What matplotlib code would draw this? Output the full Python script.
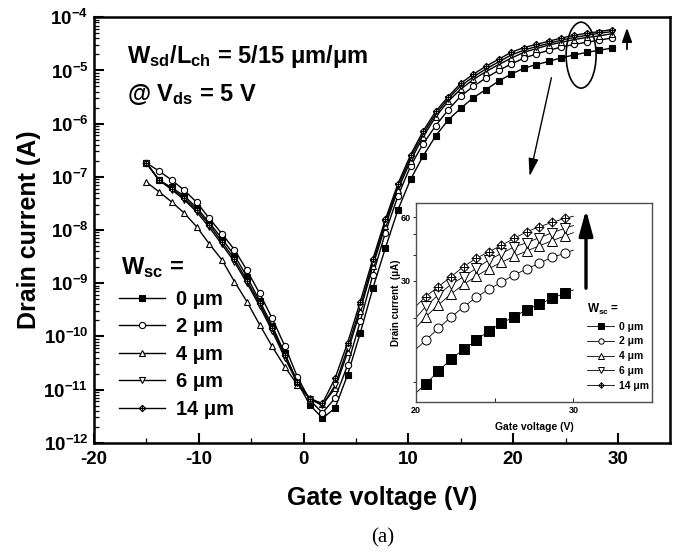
import numpy as np
import matplotlib
matplotlib.use("Agg")
import matplotlib.pyplot as plt
from matplotlib.path import Path
from matplotlib.patches import Ellipse
from matplotlib.ticker import FixedLocator, NullFormatter, LogLocator

plt.rcParams['font.family'] = ['Liberation Sans', 'DejaVu Sans']
plt.rcParams['mathtext.fontset'] = 'custom'
plt.rcParams['mathtext.rm'] = 'Liberation Sans'
plt.rcParams['mathtext.bf'] = 'Liberation Sans:bold'
plt.rcParams['mathtext.it'] = 'Liberation Sans:italic'
plt.rcParams['axes.unicode_minus'] = False

# gate voltage (V), main plot
vg = [-15.0, -13.8, -12.6, -11.4, -10.2, -9.0, -7.8, -6.6, -5.4, -4.2,
      -3.0, -1.8, -0.6, 0.6, 1.8, 3.0, 4.2, 5.4, 6.6, 7.8,
      9.0, 10.2, 11.4, 12.6, 13.8, 15.0, 16.2, 17.4, 18.6, 19.8,
      21.0, 22.2, 23.4, 24.6, 25.8, 27.0, 28.2, 29.4]

# log10 of drain current (A)
log_id_0 = [-6.74, -7.06, -7.20, -7.36, -7.58, -7.86, -8.16, -8.48, -8.88, -9.33,
            -9.80, -10.32, -10.86, -11.29, -11.54, -11.35, -10.72, -9.94, -9.10, -8.34,
            -7.62, -7.05, -6.61, -6.23, -5.93, -5.71, -5.51, -5.36, -5.20, -5.07,
            -4.96, -4.89, -4.83, -4.76, -4.71, -4.66, -4.62, -4.58]
log_id_2 = [-6.74, -6.89, -7.06, -7.25, -7.48, -7.78, -8.07, -8.37, -8.76, -9.19,
            -9.66, -10.18, -10.76, -11.20, -11.44, -11.16, -10.54, -9.72, -8.85, -8.05,
            -7.36, -6.80, -6.38, -6.04, -5.74, -5.48, -5.30, -5.14, -5.00, -4.88,
            -4.77, -4.69, -4.62, -4.56, -4.51, -4.47, -4.43, -4.39]
log_id_4 = [-7.10, -7.28, -7.47, -7.68, -7.94, -8.26, -8.56, -8.97, -9.35, -9.78,
            -10.19, -10.57, -10.91, -11.16, -11.28, -10.98, -10.30, -9.52, -8.68, -7.92,
            -7.24, -6.70, -6.25, -5.87, -5.58, -5.35, -5.17, -5.02, -4.89, -4.77,
            -4.66, -4.59, -4.52, -4.47, -4.42, -4.38, -4.35, -4.31]
log_id_6 = [-6.74, -7.06, -7.24, -7.43, -7.66, -7.95, -8.27, -8.60, -9.00, -9.43,
            -9.90, -10.40, -10.88, -11.18, -11.30, -10.92, -10.22, -9.45, -8.62, -7.86,
            -7.18, -6.64, -6.19, -5.82, -5.53, -5.29, -5.12, -4.97, -4.84, -4.71,
            -4.62, -4.55, -4.49, -4.43, -4.38, -4.34, -4.30, -4.27]
log_id_14 = [-6.74, -7.06, -7.22, -7.40, -7.62, -7.90, -8.22, -8.55, -8.95, -9.38,
             -9.85, -10.35, -10.85, -11.18, -11.26, -10.79, -10.12, -9.35, -8.55, -7.80,
             -7.13, -6.59, -6.14, -5.77, -5.49, -5.24, -5.07, -4.92, -4.79, -4.66,
             -4.57, -4.51, -4.45, -4.39, -4.34, -4.30, -4.27, -4.23]

# inset: gate voltage (V) and drain current (uA)
vg_in = [20.0, 20.64, 21.44, 22.24, 23.04, 23.84, 24.64, 25.44, 26.24, 27.04,
         27.84, 28.64, 29.44, 30.0]
id_in_0 = [8.8, 9.75, 11.2, 12.8, 14.2, 15.7, 17.4, 18.9, 20.3, 21.9, 23.3, 24.8, 26.2, 27.2]
id_in_2 = [14.2, 15.7, 17.9, 20.2, 22.6, 25.1, 27.4, 29.6, 32.0, 34.2, 36.4, 38.8, 40.5, 42.0]
id_in_4 = [17.9, 20.3, 23.1, 26.0, 28.9, 31.6, 34.3, 36.8, 39.2, 41.6, 44.0, 46.5, 49.0, 50.8]
id_in_6 = [20.0, 22.7, 25.8, 28.9, 31.4, 34.4, 37.7, 40.5, 43.5, 45.5, 48.1, 50.7, 53.2, 54.9]
id_in_14 = [22.7, 25.3, 28.2, 31.4, 35.1, 38.4, 41.2, 44.3, 47.7, 51.3, 54.2, 56.8, 59.3, 60.8]

labels = ['0 μm', '2 μm', '4 μm', '6 μm', '14 μm']

# crossed diamond marker for 14 um
M, L, C = Path.MOVETO, Path.LINETO, Path.CLOSEPOLY
xdiamond = Path([(0, 1), (1, 0), (0, -1), (-1, 0), (0, 1),
                 (0, 1), (0, -1), (-1, 0), (1, 0)],
                [M, L, L, L, C, M, L, M, L])

styles = [dict(marker='s', mfc='k'),
          dict(marker='o', mfc='w'),
          dict(marker='^', mfc='w'),
          dict(marker='v', mfc='w'),
          dict(marker=xdiamond, mfc='w')]

fig = plt.figure(figsize=(6.84, 5.52), dpi=100)
ax = fig.add_axes([0.1374, 0.198, 0.8428, 0.7707])

main_series = [log_id_0, log_id_2, log_id_4, log_id_6, log_id_14]
for logs, st, lab in zip(main_series, styles, labels):
    ax.plot(vg, 10.0 ** np.array(logs), color='k', lw=1.0, ms=4.5, mew=0.8,
            mec='k', label=lab, **st)

ax.set_yscale('log')
ax.set_ylim(1e-12, 1e-4)
ax.set_xlim(-20, 35)
ax.set_xticks([-20, -10, 0, 10, 20, 30])
ax.set_xticks([-15, -5, 5, 15, 25], minor=True)
ax.set_xticklabels(['-20', '-10', '0', '10', '20', '30'], fontsize=13.5, fontweight='bold')
exps = list(range(-12, -3))
ax.yaxis.set_major_locator(FixedLocator([10.0 ** e for e in exps]))
ax.yaxis.set_minor_locator(LogLocator(base=10, subs=np.arange(2, 10)))
ax.yaxis.set_minor_formatter(NullFormatter())
ax.set_yticklabels([r'$\mathbf{10^{%d}}$' % e for e in exps], fontsize=13.5)
ax.tick_params(which='major', direction='in', length=7, width=1.5, pad=4)
ax.tick_params(which='minor', direction='in', length=3.5, width=0.9)
ax.tick_params(axis='x', which='major', pad=6)
for sp in ax.spines.values():
    sp.set_linewidth(1.8)

ax.set_xlabel('Gate voltage (V)', fontsize=18, fontweight='bold', labelpad=13)
ax.set_ylabel('Drain current (A)', fontsize=18, fontweight='bold', labelpad=2)

fig.text(127 / 684, 1 - 63 / 552, r'$\mathbf{W_{sd}/L_{ch}}$ = 5/15 μm/μm',
         fontsize=17, fontweight='bold', va='baseline')
fig.text(127 / 684, 1 - 101 / 552, r'@ $\mathbf{V_{ds}}$ = 5 V',
         fontsize=17, fontweight='bold', va='baseline')

# legend title written separately to match the wider gap
fig.text(121 / 684, 1 - 274 / 552, r'$\mathbf{W_{sc}}$ =', fontsize=17,
         fontweight='bold', va='baseline')
ax.legend(loc='upper left', bbox_to_anchor=(119 / 684, 1 - 290 / 552),
          bbox_transform=fig.transFigure, frameon=False, borderpad=0,
          borderaxespad=0, handlelength=2.3, handletextpad=0.55,
          labelspacing=0.42, prop={'weight': 'bold', 'size': 14.5})

# ellipse and arrows in the main plot
ax.add_patch(Ellipse((0.845, 0.911), 0.052, 0.155, transform=ax.transAxes,
                     fill=False, lw=1.2, color='k'))
ax.annotate('', xy=(627 / 684, 1 - 25 / 552), xytext=(627 / 684, 1 - 52 / 552),
            xycoords='figure fraction', textcoords='figure fraction',
            arrowprops=dict(arrowstyle='-|>,head_width=0.25,head_length=0.7',
                            lw=1.3, color='k', mutation_scale=12))
ax.annotate('', xy=(529 / 684, 1 - 179 / 552), xytext=(552 / 684, 1 - 75 / 552),
            xycoords='figure fraction', textcoords='figure fraction',
            arrowprops=dict(arrowstyle='-|>,head_width=0.25,head_length=0.9',
                            lw=1.0, color='k', mutation_scale=12))

fig.text(383 / 684, 1 - 538 / 552, '(a)', family='Liberation Serif',
         fontsize=15, ha='center', va='center')

# inset
axin = fig.add_axes([0.6077, 0.2717, 0.3459, 0.36])
inset_series = [id_in_0, id_in_2, id_in_4, id_in_6, id_in_14]
for vals, st, lab in zip(inset_series, styles, labels):
    axin.plot(vg_in, vals, color='k', lw=0.6, ms=6.5, mew=0.7, mec='k',
              markevery=slice(1, -1), label=lab, **st)
axin.set_yscale('log')
axin.set_xlim(20, 35)
axin.set_ylim(8, 70)
axin.xaxis.set_major_locator(FixedLocator([20, 30]))
axin.xaxis.set_minor_locator(FixedLocator([25]))
axin.yaxis.set_major_locator(FixedLocator([30, 60]))
axin.yaxis.set_minor_locator(FixedLocator([10, 20, 40, 50]))
axin.yaxis.set_minor_formatter(NullFormatter())
axin.set_yticklabels(['30', '60'], fontsize=6.5, fontweight='bold')
axin.set_xticklabels(['20', '30'], fontsize=6.5, fontweight='bold')
axin.tick_params(axis='y', which='both', direction='out', length=2.5, width=0.6, pad=1)
axin.tick_params(axis='x', which='both', direction='in', length=3, width=0.6, pad=3)
for sp in axin.spines.values():
    sp.set_linewidth(1.0)
    sp.set_color('0.3')
axin.set_xlabel('Gate voltage (V)', fontsize=7.5, fontweight='bold', labelpad=5)
axin.set_ylabel('Drain current  (μA)', fontsize=7, fontweight='bold', labelpad=0)

axin.legend(loc='upper left', bbox_to_anchor=(587 / 684, 1 - 302 / 552),
            bbox_transform=fig.transFigure, frameon=False, borderpad=0,
            borderaxespad=0, handlelength=2.6, handletextpad=0.5,
            labelspacing=0.45, alignment='left', markerscale=0.6,
            title=r'$\mathbf{W_{sc}}$ =',
            prop={'weight': 'bold', 'size': 7.5},
            title_fontproperties={'weight': 'bold', 'size': 8.5})

axin.annotate('', xy=(586 / 684, 1 - 207 / 552), xytext=(586 / 684, 1 - 291 / 552),
              xycoords='figure fraction', textcoords='figure fraction',
              annotation_clip=False,
              arrowprops=dict(arrowstyle='-|>,head_width=0.3,head_length=1.1',
                              lw=2.4, color='k', mutation_scale=14))

fig.savefig('out.png', dpi=100)
